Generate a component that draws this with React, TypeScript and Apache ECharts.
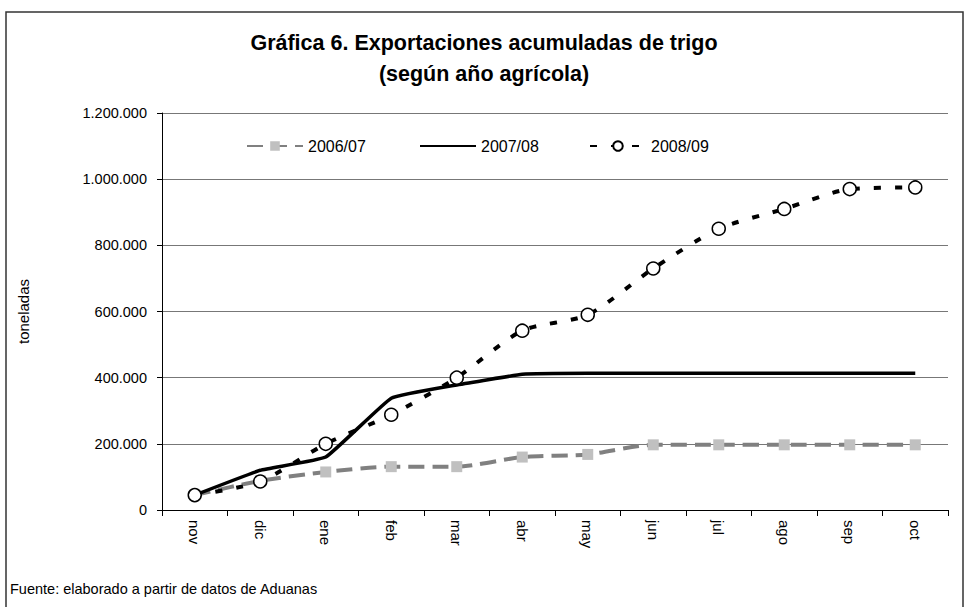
import React, { useEffect, useRef } from "react";
import * as echarts from "echarts";

const months = ["nov", "dic", "ene", "feb", "mar", "abr", "may", "jun", "jul", "ago", "sep", "oct"];
const s0607 = [45000, 88000, 115000, 131000, 131000, 160000, 168000, 197000, 197000, 197000, 197000, 197000];
const s0708 = [45000, 120000, 160000, 338000, 378000, 410000, 413000, 413000, 413000, 413000, 413000, 413000];
const s0809 = [45000, 86000, 200000, 288000, 400000, 542000, 590000, 730000, 850000, 910000, 970000, 975000];
const seriesNames = ["2006/07", "2007/08", "2008/09"];
const titleText = "Gráfica 6. Exportaciones acumuladas de trigo\n(según año agrícola)";
const footText = "Fuente: elaborado a partir de datos de Aduanas";
const yName = "toneladas";

const FONT = "'Liberation Sans', Arial, sans-serif";

function fmt(v: number) {
  return String(v).replace(/\B(?=(\d{3})+(?!\d))/g, ".");
}

export default function App() {
  const ref = useRef<HTMLDivElement>(null);
  useEffect(() => {
    if (!ref.current) return;
    const chart = echarts.init(ref.current, null, { renderer: "svg" });
    const legendBase = {
      top: 133,
      itemWidth: 56,
      itemHeight: 12,
      textStyle: { fontSize: 16, color: "#000", fontFamily: FONT },
      itemGap: 5,
    };
    chart.setOption({
      animation: false,
      backgroundColor: "#fff",
      textStyle: { fontFamily: FONT },
      title: {
        text: titleText,
        left: "center",
        top: 22,
        textStyle: { fontSize: 21.5, fontWeight: "bold", color: "#000", lineHeight: 31, fontFamily: FONT },
      },
      legend: [
        { ...legendBase, left: 241, data: [seriesNames[0]] },
        { ...legendBase, left: 414, data: [seriesNames[1]], itemStyle: { opacity: 0 } },
        { ...legendBase, left: 584, data: [seriesNames[2]] },
      ],
      grid: { left: 162, right: 20, top: 113, bottom: 97 },
      xAxis: {
        type: "category",
        data: months,
        boundaryGap: true,
        axisLine: { lineStyle: { color: "#000", width: 1 } },
        axisTick: { show: true, length: 6, lineStyle: { color: "#000" } },
        axisLabel: { rotate: -90, fontSize: 15, color: "#000", margin: 10, fontFamily: FONT },
        splitLine: { show: false },
      },
      yAxis: {
        type: "value",
        min: 0,
        max: 1200000,
        interval: 200000,
        name: yName,
        nameLocation: "middle",
        nameGap: 131,
        nameTextStyle: { fontSize: 15, color: "#000", fontFamily: FONT },
        axisLine: { show: true, lineStyle: { color: "#000", width: 1 } },
        axisTick: { show: true, length: 5, lineStyle: { color: "#000" } },
        axisLabel: { fontSize: 14.5, color: "#000", margin: 15, formatter: (v: number) => fmt(v), fontFamily: FONT },
        splitLine: { show: true, lineStyle: { color: "#777", width: 1 } },
      },
      series: [
        {
          name: seriesNames[0],
          type: "line",
          data: s0607,
          smooth: 0.25,
          symbol: "rect",
          symbolSize: 11,
          itemStyle: { color: "#c0c0c0", borderWidth: 0 },
          lineStyle: { color: "#808080", width: 4, type: [16, 8] },
          z: 2,
        },
        {
          name: seriesNames[1],
          type: "line",
          data: s0708,
          smooth: 0.1,
          symbol: "none",
          itemStyle: { color: "#000" },
          lineStyle: { color: "#000", width: 3.5, type: "solid" },
          z: 3,
        },
        {
          name: seriesNames[2],
          type: "line",
          data: s0809,
          smooth: 0.25,
          symbol: "circle",
          symbolSize: 13,
          itemStyle: { color: "#fff", borderColor: "#000", borderWidth: 1.5 },
          lineStyle: { color: "#000", width: 4, type: [7, 14] },
          z: 4,
        },
      ],
      graphic: [
        {
          type: "rect",
          shape: { x: 6, y: 12, width: 957, height: 620 },
          style: { fill: "none", stroke: "#333", lineWidth: 1.5 },
          silent: true,
          z: -1,
        },
        {
          type: "text",
          left: 10,
          top: 581,
          style: { text: footText, fontSize: 14.5, fill: "#000", fontFamily: FONT },
        },
      ],
    });
    return () => chart.dispose();
  }, []);
  return (
    <div
      ref={ref}
      style={{ position: "fixed", left: 0, top: 0, width: 968, height: 607 }}
    />
  );
}
